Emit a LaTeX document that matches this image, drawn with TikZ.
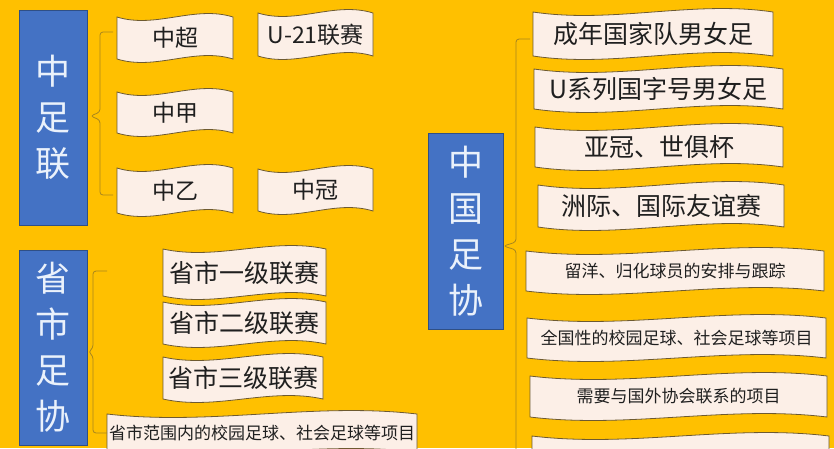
\documentclass[tikz,border=0pt]{standalone}
\usepackage{fontspec}
\setmainfont{Noto Sans CJK SC}
\usepackage{xcolor}
\usetikzlibrary{positioning}
\definecolor{bgyellow}{HTML}{FFC000}
\definecolor{orgblue}{HTML}{4472C4}
\definecolor{orgline}{HTML}{2F4F86}
\definecolor{orgtext}{HTML}{EAF1FB}
\definecolor{flagfill}{HTML}{FCEFE7}
\definecolor{flagline}{HTML}{6E5A30}
\definecolor{braceline}{HTML}{A8861E}
\tikzset{
  org/.style={draw=orgline,fill=orgblue,text=orgtext,line width=1pt,inner sep=0pt,
    align=center,font=\fontsize{35}{46}\selectfont},
  flag/.style={draw=flagline,fill=flagfill,line width=0.8pt},
  flagtext/.style={text=black!88,inner sep=0pt},
  brace/.style={draw=braceline,line width=0.8pt,rounded corners=3pt}
}
% wave box: [font size]{name}{x1}{y1}{x2}{y2}{text}
\newcommand{\flagbox}[7][25]{%
\draw [flag] (#3,#4+4) .. controls ({#3+(#5-#3)/3},#4+16) and ({#3+2*(#5-#3)/3},#4-8) .. (#5,#4+4)
  -- (#5,#6-4) .. controls ({#3+2*(#5-#3)/3},#6-16) and ({#3+(#5-#3)/3},#6+8) .. (#3,#6-4) -- cycle;
\node [flagtext,font=\fontsize{#1}{#1}\selectfont] (#2) at ({(#3+#5)/2},{(#4+#6)/2}) {#7};}

\begin{document}
\begin{tikzpicture}[x=1pt,y=-1pt]
\useasboundingbox (0,0) rectangle (834,448);
\clip (0,0) rectangle (834,448);
\fill [bgyellow] (0,0) rectangle (834,448);

% left column
\node [org,minimum width=68pt,minimum height=215pt] (zzl) at (53,117.5) {中\\足\\联};
\node [org,minimum width=68pt,minimum height=195pt] (sszx) at (53,347.5) {省\\市\\足\\协};
\node [org,minimum width=75pt,minimum height=196pt] (zgzx) at (465.5,231) {中\\国\\足\\协};

\flagbox[23]{zc}{117}{13}{233}{63}{中超}
\flagbox[23]{u21}{258}{9}{373}{60}{U-21联赛}
\flagbox[23]{zj}{117}{88}{233}{137}{中甲}
\flagbox[23]{zy}{117}{164}{233}{217}{中乙}
\flagbox[23]{zg}{258}{165}{373}{215}{中冠}

\flagbox{sj1}{163}{245}{326}{300}{省市一级联赛}
\flagbox{sj2}{163}{298}{326}{348}{省市二级联赛}
\flagbox{sj3}{163}{353}{323}{403}{省市三级联赛}
\flagbox[17]{ssxm}{107}{410}{417}{456}{省市范围内的校园足球、社会足球等项目}

% right column
\flagbox{cnd}{533}{8}{773}{60}{成年国家队男女足}
\flagbox{uxl}{534}{65}{783}{113}{U系列国字号男女足}
\flagbox{ygs}{535}{123}{783}{171}{亚冠、世俱杯}
\flagbox{zjy}{538}{181}{784}{231}{洲际、国际友谊赛}
\flagbox[17]{lyg}{526}{247}{824}{295}{留洋、归化球员的安排与跟踪}
\flagbox[17]{qgx}{527}{314}{826}{362}{全国性的校园足球、社会足球等项目}
\flagbox[17]{gwx}{530}{372}{827}{421}{需要与国外协会联系的项目}
\flagbox[17]{qt}{532}{432}{829}{480}{}

% braces
\coordinate (zzl tip) at ([xshift=3pt]zzl.east |- 0,116);
\coordinate (sszx tip) at ([xshift=1pt]sszx.east |- 0,352);
\coordinate (zgzx tip) at (zgzx.east |- 0,246);
\draw [brace] (113,32) -| (100,112) -- (zzl tip) -- (100,120) |- (113,195);
\draw [brace] (107,271) -| (93,348) -- (sszx tip) -- (93,356) |- (107,433);
\draw [brace] (530,39) -| (516,242) -- (zgzx tip) -- (516,250) -- (516,470);
\end{tikzpicture}
\end{document}
